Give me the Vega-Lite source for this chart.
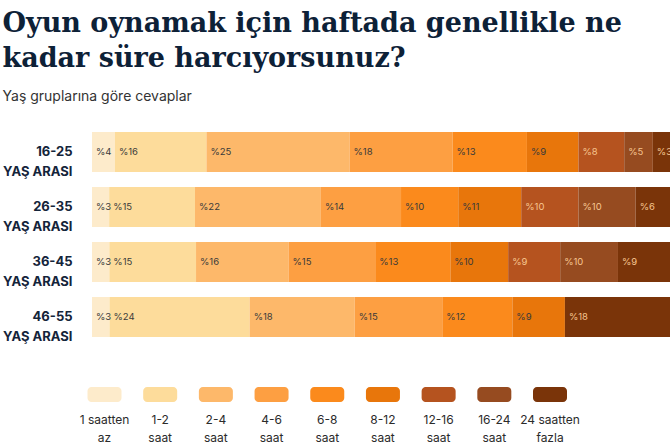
{
  "$schema": "https://vega.github.io/schema/vega-lite/v6.json",
  "background": "white",
  "padding": {"left": 2, "top": 10, "right": 0, "bottom": 0},
  "title": {
    "text": ["Oyun oynamak için haftada genellikle ne", "kadar süre harcıyorsunuz?"],
    "subtitle": "Yaş gruplarına göre cevaplar",
    "anchor": "start",
    "font": "DejaVu Serif",
    "fontSize": 27,
    "fontWeight": "bold",
    "color": "#0d2137",
    "lineHeight": 35,
    "subtitleFont": "Inter",
    "subtitleFontSize": 14,
    "subtitleColor": "#333333",
    "subtitlePadding": 17,
    "offset": 27
  },
  "config": {"view": {"stroke": null}, "font": "Inter"},
  "datasets": {
    "answers": [
      {"age": "16-25", "cat": "1 saatten az", "pct": 4},
      {"age": "16-25", "cat": "1-2 saat", "pct": 16},
      {"age": "16-25", "cat": "2-4 saat", "pct": 25},
      {"age": "16-25", "cat": "4-6 saat", "pct": 18},
      {"age": "16-25", "cat": "6-8 saat", "pct": 13},
      {"age": "16-25", "cat": "8-12 saat", "pct": 9},
      {"age": "16-25", "cat": "12-16 saat", "pct": 8},
      {"age": "16-25", "cat": "16-24 saat", "pct": 5},
      {"age": "16-25", "cat": "24 saatten fazla", "pct": 3},
      {"age": "26-35", "cat": "1 saatten az", "pct": 3},
      {"age": "26-35", "cat": "1-2 saat", "pct": 15},
      {"age": "26-35", "cat": "2-4 saat", "pct": 22},
      {"age": "26-35", "cat": "4-6 saat", "pct": 14},
      {"age": "26-35", "cat": "6-8 saat", "pct": 10},
      {"age": "26-35", "cat": "8-12 saat", "pct": 11},
      {"age": "26-35", "cat": "12-16 saat", "pct": 10},
      {"age": "26-35", "cat": "16-24 saat", "pct": 10},
      {"age": "26-35", "cat": "24 saatten fazla", "pct": 6},
      {"age": "36-45", "cat": "1 saatten az", "pct": 3},
      {"age": "36-45", "cat": "1-2 saat", "pct": 15},
      {"age": "36-45", "cat": "2-4 saat", "pct": 16},
      {"age": "36-45", "cat": "4-6 saat", "pct": 15},
      {"age": "36-45", "cat": "6-8 saat", "pct": 13},
      {"age": "36-45", "cat": "8-12 saat", "pct": 10},
      {"age": "36-45", "cat": "12-16 saat", "pct": 9},
      {"age": "36-45", "cat": "16-24 saat", "pct": 10},
      {"age": "36-45", "cat": "24 saatten fazla", "pct": 9},
      {"age": "46-55", "cat": "1 saatten az", "pct": 3},
      {"age": "46-55", "cat": "1-2 saat", "pct": 24},
      {"age": "46-55", "cat": "2-4 saat", "pct": 18},
      {"age": "46-55", "cat": "4-6 saat", "pct": 15},
      {"age": "46-55", "cat": "6-8 saat", "pct": 12},
      {"age": "46-55", "cat": "8-12 saat", "pct": 9},
      {"age": "46-55", "cat": "24 saatten fazla", "pct": 18}
    ],
    "legend": [
      {"cat": "1 saatten az", "label": "1 saatten\naz"},
      {"cat": "1-2 saat", "label": "1-2\nsaat"},
      {"cat": "2-4 saat", "label": "2-4\nsaat"},
      {"cat": "4-6 saat", "label": "4-6\nsaat"},
      {"cat": "6-8 saat", "label": "6-8\nsaat"},
      {"cat": "8-12 saat", "label": "8-12\nsaat"},
      {"cat": "12-16 saat", "label": "12-16\nsaat"},
      {"cat": "16-24 saat", "label": "16-24\nsaat"},
      {"cat": "24 saatten fazla", "label": "24 saatten\nfazla"}
    ]
  },
  "bounds": "flush",
  "spacing": 50,
  "vconcat": [
    {
      "width": 578,
      "height": 205,
      "data": {"name": "answers"},
      "transform": [
        {"calculate": "'%' + datum.pct", "as": "lbl"},
        {"stack": "pct", "groupby": ["age"], "offset": "normalize", "as": ["s0", "s1"]}
      ],
      "encoding": {
        "y": {
          "field": "age",
          "type": "nominal",
          "sort": null,
          "scale": {"paddingInner": 0.2727, "paddingOuter": 0},
          "axis": {
            "title": null,
            "domain": false,
            "ticks": false,
            "labelExpr": "[datum.label, 'YAŞ ARASI']",
            "labelFont": "Inter",
            "labelFontWeight": "bold",
            "labelFontSize": 13,
            "labelColor": "#14243a",
            "labelPadding": 20,
            "labelLineHeight": 20
          }
        }
      },
      "layer": [
        {
          "mark": {"type": "bar"},
          "encoding": {
            "x": {"field": "s0", "type": "quantitative", "scale": {"domain": [0, 1]}, "axis": null},
            "x2": {"field": "s1"},
            "color": {
              "field": "cat",
              "type": "nominal",
              "scale": {
                "domain": ["1 saatten az", "1-2 saat", "2-4 saat", "4-6 saat", "6-8 saat", "8-12 saat", "12-16 saat", "16-24 saat", "24 saatten fazla"],
                "range": ["#fdebcb", "#fddc9b", "#fdb86a", "#fd9f42", "#fb8a1c", "#e8760b", "#b5531f", "#964b20", "#7a3409"]
              },
              "legend": null
            }
          }
        },
        {
          "mark": {"type": "text", "align": "left", "baseline": "middle", "dx": 4, "fontSize": 9.5, "font": "Inter"},
          "encoding": {
            "x": {"field": "s0", "type": "quantitative"},
            "text": {"field": "lbl"},
            "color": {
              "condition": {"test": "datum.cat == '12-16 saat' || datum.cat == '16-24 saat' || datum.cat == '24 saatten fazla'", "value": "#f7c690"},
              "value": "#3a3a3a"
            }
          }
        }
      ]
    },
    {
      "width": 578,
      "height": 15,
      "data": {"name": "legend"},
      "encoding": {
        "x": {"field": "cat", "type": "nominal", "sort": null, "scale": {"type": "point", "padding": 0, "range": [12.5, 458]}, "axis": null}
      },
      "layer": [
        {
          "mark": {"type": "bar", "width": 34, "cornerRadius": 4},
          "encoding": {
            "color": {"field": "cat", "type": "nominal", "legend": null}
          }
        },
        {
          "mark": {"type": "text", "baseline": "top", "dy": 20, "lineBreak": "\n", "lineHeight": 18, "fontSize": 12, "font": "Inter", "color": "#2b2b2b"},
          "encoding": {
            "text": {"field": "label"}
          }
        }
      ]
    }
  ]
}
